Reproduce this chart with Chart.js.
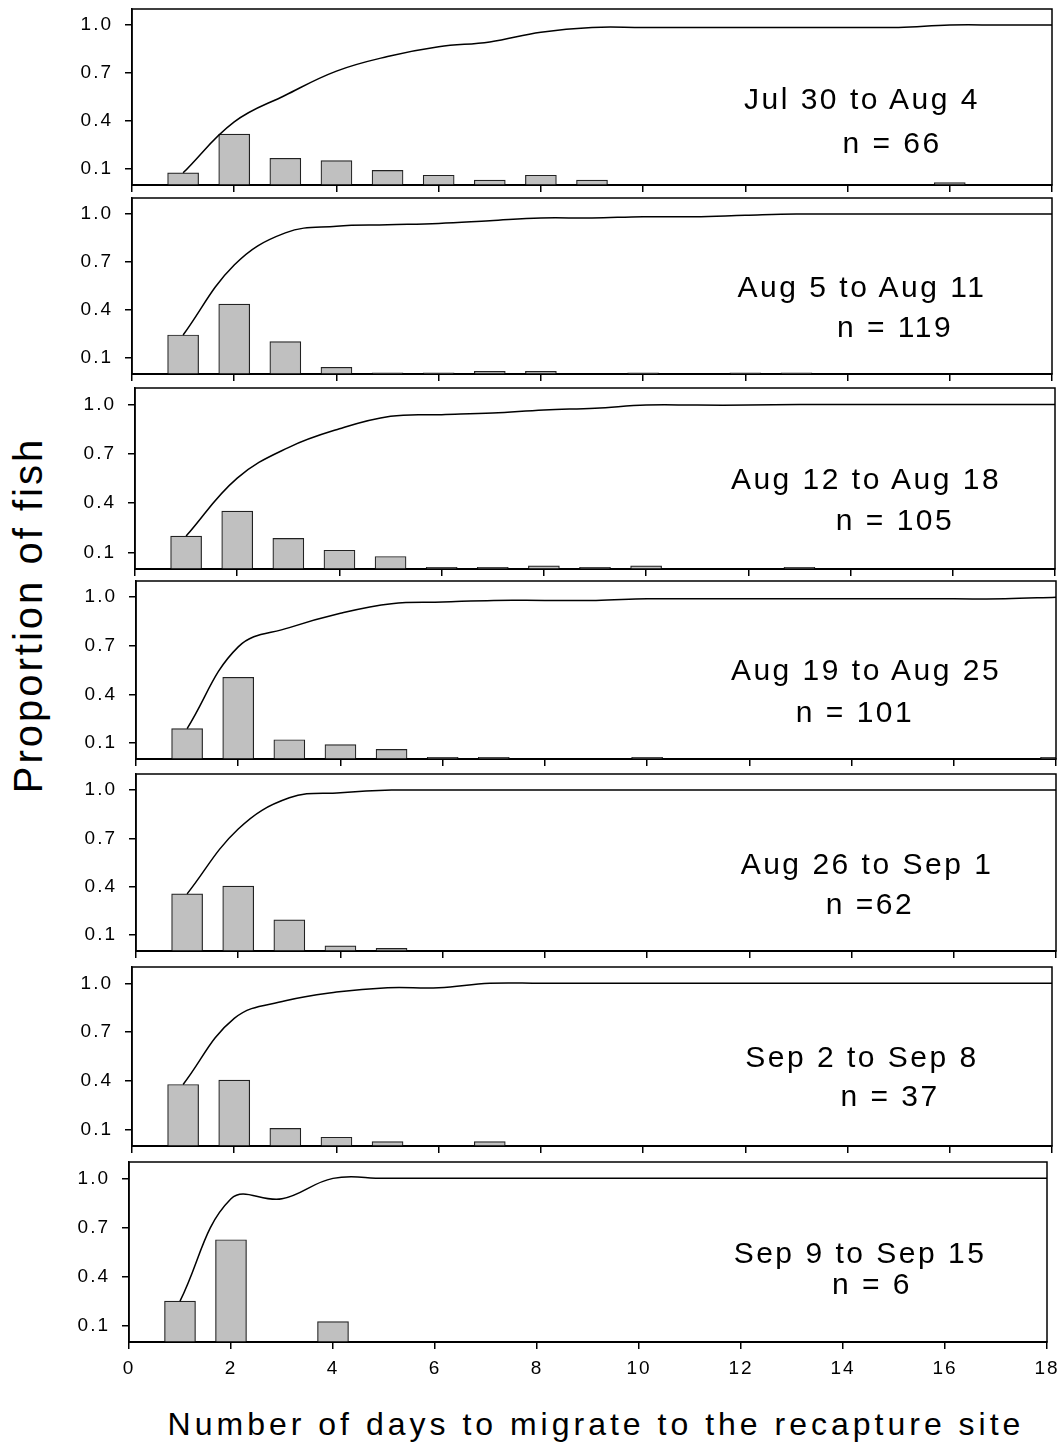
<!DOCTYPE html>
<html><head><meta charset="utf-8">
<script src="https://cdn.jsdelivr.net/npm/chart.js@4/dist/chart.umd.min.js"></script>
<style>
html,body{margin:0;padding:0;background:#fff;}
body{width:1064px;height:1446px;position:relative;overflow:hidden;font-family:"Liberation Sans",Arial,sans-serif;color:#000;}
canvas{position:absolute;left:0;}
.lbl{position:absolute;white-space:nowrap;font-size:30px;letter-spacing:2.5px;line-height:1;transform:translate(-50%,-50%);}
#xt{position:absolute;left:596px;top:1424px;font-size:32px;letter-spacing:4px;line-height:1;white-space:nowrap;transform:translate(-50%,-50%);}
#yt{position:absolute;left:28px;top:615px;font-size:40px;letter-spacing:3px;line-height:1;white-space:nowrap;transform:translate(-50%,-50%) rotate(-90deg);}
</style></head><body>
<div id="xt">Number of days to migrate to the recapture site</div>
<div id="yt">Proportion of fish</div>
<script>
// ---- data ----
const days = [1,2,3,4,5,6,7,8,9,10,11,12,13,14,15,16,17,18];
const xTicks = [0,2,4,6,8,10,12,14,16,18];
const yTicks = [0.1,0.4,0.7,1.0];
const periodLabels = ['Jul 30 to Aug 4','Aug 5 to Aug 11','Aug 12 to Aug 18','Aug 19 to Aug 25','Aug 26 to Sep 1','Sep 2 to Sep 8','Sep 9 to Sep 15'];
const nLabels = ['n = 66','n = 119','n = 105','n = 101','n =62','n = 37','n = 6'];

const bars1 = [0.076,0.318,0.167,0.152,0.091,0.061,0.030,0.061,0.030,null,null,null,null,null,null,0.015,null,null];
const line1 = [0.076,0.394,0.561,0.712,0.803,0.864,0.894,0.955,0.985,0.985,0.985,0.985,0.985,0.985,0.985,1.0,1.0,1.0];
const bars2 = [0.244,0.437,0.202,0.042,0.008,0.008,0.017,0.017,null,0.008,null,0.008,0.008,null,null,null,null,null];
const line2 = [0.244,0.681,0.882,0.924,0.933,0.941,0.958,0.975,0.975,0.983,0.983,0.992,1.0,1.0,1.0,1.0,1.0,1.0];
const bars3 = [0.200,0.352,0.186,0.114,0.076,0.010,0.010,0.019,0.010,0.019,null,null,0.010,null,null,null,null,null];
const line3 = [0.200,0.552,0.738,0.852,0.928,0.938,0.948,0.967,0.977,0.996,0.996,0.996,1.0,1.0,1.0,1.0,1.0,1.0];
const bars4 = [0.188,0.505,0.119,0.089,0.059,0.010,0.010,null,null,0.010,null,null,null,null,null,null,null,0.010];
const line4 = [0.188,0.693,0.812,0.901,0.960,0.970,0.980,0.980,0.980,0.990,0.990,0.990,0.990,0.990,0.990,0.990,0.990,1.0];
const bars5 = [0.355,0.403,0.194,0.032,0.016,null,null,null,null,null,null,null,null,null,null,null,null,null];
const line5 = [0.355,0.758,0.952,0.984,1.0,1.0,1.0,1.0,1.0,1.0,1.0,1.0,1.0,1.0,1.0,1.0,1.0,1.0];
const bars6 = [0.378,0.405,0.108,0.054,0.027,null,0.027,null,null,null,null,null,null,null,null,null,null,null];
const line6 = [0.378,0.784,0.892,0.946,0.973,0.973,1.0,1.0,1.0,1.0,1.0,1.0,1.0,1.0,1.0,1.0,1.0,1.0];
const bars7 = [0.25,0.625,null,0.125,null,null,null,null,null,null,null,null,null,null,null,null,null,null];
const line7 = [0.25,0.875,0.875,1.0,1.0,1.0,1.0,1.0,1.0,1.0,1.0,1.0,1.0,1.0,1.0,1.0,1.0,1.0];

const barSets = [bars1,bars2,bars3,bars4,bars5,bars6,bars7];
const lineSets = [line1,line2,line3,line4,line5,line6,line7];

// ---- layout (pixels) ----
const boxes = [
  {top:9,   bottom:185,  left:132, right:1052},
  {top:198, bottom:374,  left:132, right:1052},
  {top:388, bottom:569,  left:135, right:1055},
  {top:581, bottom:759,  left:136, right:1056},
  {top:774, bottom:951,  left:136, right:1056},
  {top:967, bottom:1146, left:132, right:1052},
  {top:1162,bottom:1342, left:129, right:1047}
];
const labelPos = [
  {px:862, py:99,   nx:892, ny:143},
  {px:862, py:287,  nx:895, ny:327},
  {px:866, py:479,  nx:895, ny:520},
  {px:866, py:670,  nx:855, ny:712},
  {px:867, py:864,  nx:870, ny:904},
  {px:862, py:1057, nx:890, ny:1096},
  {px:860, py:1253, nx:872, ny:1284}
];

const FONT = '"Liberation Sans", Arial, sans-serif';

const framePlugin = {
  id:'frame',
  beforeDraw(chart){
    try { chart.ctx.letterSpacing = '2px'; } catch(e) {}
  },
  afterDraw(chart){
    const a = chart.chartArea, c = chart.ctx;
    c.save();
    c.strokeStyle = '#000';
    c.lineWidth = 1.5;
    c.strokeRect(a.left, a.top, a.right - a.left, a.bottom - a.top);
    c.restore();
  }
};

function makePanel(i){
  const B = boxes[i];
  const last = i === boxes.length - 1;
  const padTop = 10;
  const xh = last ? 44 : 9;
  const h = (B.bottom - B.top) + padTop + xh;
  const cv = document.createElement('canvas');
  cv.width = 1064; cv.height = h;
  cv.style.width = '1064px'; cv.style.height = h + 'px';
  cv.style.top = (B.top - padTop) + 'px';
  document.body.appendChild(cv);
  new Chart(cv.getContext('2d'), {
    type:'bar',
    data:{
      datasets:[
        {type:'line', data: days.map((d,k)=>({x:d, y:lineSets[i][k]})), borderColor:'#000', borderWidth:1.5,
         pointRadius:0, tension:0.4, fill:false, order:0},
        {type:'bar', data: days.map((d,k)=>({x:d, y:barSets[i][k]})), backgroundColor:'#c0c0c0',
         borderColor:'#222', borderWidth:1.2, barThickness:31, order:1}
      ]
    },
    options:{
      responsive:false, animation:false, devicePixelRatio:1,
      layout:{autoPadding:false, padding:{top:padTop, right:1064 - B.right, left:0, bottom:0}},
      plugins:{legend:{display:false}, tooltip:{enabled:false}},
      scales:{
        x:{type:'linear', min:0, max:18, offset:false,
           afterBuildTicks:s=>{ s.ticks = xTicks.map(v=>({value:v})); },
           afterFit:s=>{ s.height = xh; s.paddingLeft = 0; s.paddingRight = 0; },
           grid:{drawOnChartArea:false, drawTicks:true, tickLength:7, color:'#000', lineWidth:1.5, offset:false},
           border:{display:true, color:'#000', width:2},
           ticks:{display:last, color:'#000', padding:8, maxRotation:0, autoSkip:false,
                  font:{family:FONT, size:19}}
        },
        y:{type:'linear', min:0, max:1.1,
           afterBuildTicks:s=>{ s.ticks = yTicks.map(v=>({value:v})); },
           afterFit:s=>{ s.width = B.left; s.paddingTop = 0; s.paddingBottom = 0; },
           grid:{drawOnChartArea:false, drawTicks:true, tickLength:7, color:'#000', lineWidth:1.5},
           border:{display:true, color:'#000', width:1.5},
           ticks:{color:'#000', padding:12, font:{family:FONT, size:19},
                  callback:v=>Number(v).toFixed(1)}
        }
      }
    },
    plugins:[framePlugin]
  });
  const P = labelPos[i];
  const d1 = document.createElement('div');
  d1.className = 'lbl'; d1.textContent = periodLabels[i];
  d1.style.left = P.px + 'px'; d1.style.top = P.py + 'px';
  document.body.appendChild(d1);
  const d2 = document.createElement('div');
  d2.className = 'lbl'; d2.textContent = nLabels[i];
  d2.style.left = P.nx + 'px'; d2.style.top = P.ny + 'px';
  document.body.appendChild(d2);
}
for (let i = 0; i < boxes.length; i++) makePanel(i);
</script>
</body></html>
